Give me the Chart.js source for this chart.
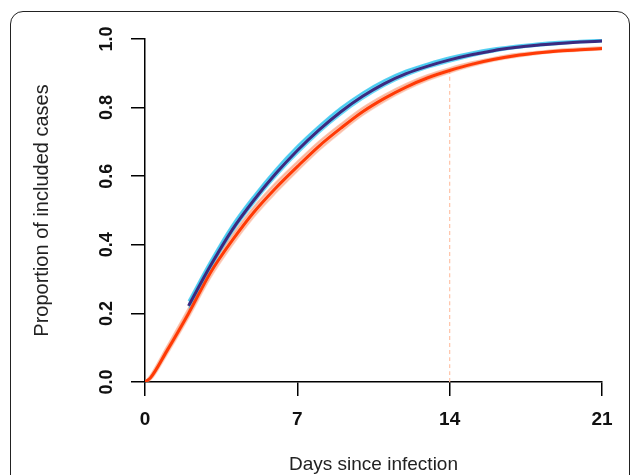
<!DOCTYPE html>
<html>
<head>
  <meta charset="utf-8">
  <title>Proportion of included cases</title>
  <style>
    body { margin: 0; background: #fff; }
    .wrap { position: relative; width: 630px; height: 475px; overflow: hidden; }
    .frame {
      position: absolute; left: 10px; top: 11px; width: 618px; height: 520px;
      border: 1px solid #222; border-radius: 13px;
    }
    canvas { position: absolute; left: 0; top: 0; }
  </style>
</head>
<body>
  <div class="wrap">
    <div class="frame"></div>
    <canvas id="chart" width="630" height="475"></canvas>
  </div>

  <script src="https://cdn.jsdelivr.net/npm/chart.js"></script>
  <script>
    const xTicks = [0, 7, 14, 21];
    const yTicks = [0, 0.2, 0.4, 0.6, 0.8, 1.0];
    const yTickLabels = ['0.0', '0.2', '0.4', '0.6', '0.8', '1.0'];

    // red curve (with salmon band)
    const redDays = [0, 0.25, 1, 2, 3, 4, 5, 6, 7, 8, 9, 10, 11, 12, 13, 14, 15, 16, 17, 18, 19, 20, 21];
    const redMid  = [0, 0.012, 0.09, 0.2, 0.318, 0.412, 0.495, 0.565, 0.628, 0.688, 0.74, 0.788, 0.827, 0.86, 0.887, 0.908, 0.926, 0.94, 0.951, 0.959, 0.965, 0.969, 0.972];
    const redLow  = [0, 0.005, 0.078, 0.186, 0.302, 0.397, 0.48, 0.55, 0.614, 0.675, 0.728, 0.777, 0.817, 0.851, 0.879, 0.901, 0.92, 0.935, 0.946, 0.955, 0.961, 0.965, 0.968];
    const redHigh = [0, 0.019, 0.102, 0.214, 0.334, 0.427, 0.51, 0.58, 0.642, 0.701, 0.752, 0.799, 0.837, 0.869, 0.895, 0.915, 0.932, 0.945, 0.956, 0.963, 0.969, 0.973, 0.976];

    // navy curve (with cyan band)
    const navyDays = [2, 3, 4, 5, 6, 7, 8, 9, 10, 11, 12, 13, 14, 15, 16, 17, 18, 19, 20, 21];
    const navyMid  = [0.222, 0.338, 0.443, 0.53, 0.607, 0.675, 0.735, 0.788, 0.833, 0.87, 0.899, 0.921, 0.939, 0.954, 0.966, 0.975, 0.982, 0.987, 0.991, 0.994];
    const navyLow  = [0.208, 0.324, 0.43, 0.517, 0.594, 0.662, 0.723, 0.776, 0.822, 0.86, 0.89, 0.913, 0.931, 0.947, 0.96, 0.97, 0.977, 0.982, 0.987, 0.99];
    const navyHigh = [0.236, 0.352, 0.457, 0.543, 0.62, 0.688, 0.747, 0.8, 0.844, 0.88, 0.908, 0.929, 0.947, 0.961, 0.972, 0.98, 0.987, 0.992, 0.995, 0.998];

    const markDay = 14;
    const markValue = 0.908;

    const pts = (xs, ys) => xs.map((x, i) => ({ x: x, y: ys[i] }));
    const FONT = '"Liberation Sans", Arial, sans-serif';

    const textPlugin = {
      id: 'texts',
      afterDraw(chart) {
        const ctx = chart.ctx;
        const xs = chart.scales.x, ys = chart.scales.y;
        ctx.save();
        ctx.fillStyle = '#111';
        ctx.textAlign = 'center';
        ctx.textBaseline = 'middle';
        ctx.font = 'bold 19px ' + FONT;
        xTicks.forEach(v => ctx.fillText(String(v), xs.getPixelForValue(v), 420));
        ctx.font = 'bold 18px ' + FONT;
        yTicks.forEach((v, i) => {
          ctx.save();
          ctx.translate(107, ys.getPixelForValue(v));
          ctx.rotate(-Math.PI / 2);
          ctx.fillText(yTickLabels[i], 0, 0);
          ctx.restore();
        });
        ctx.fillStyle = '#222';
        ctx.font = '19px ' + FONT;
        ctx.fillText('Days since infection', (chart.chartArea.left + chart.chartArea.right) / 2, 465);
        ctx.font = '20px ' + FONT;
        ctx.save();
        ctx.translate(42, (chart.chartArea.top + chart.chartArea.bottom) / 2);
        ctx.rotate(-Math.PI / 2);
        ctx.fillText('Proportion of included cases', 0, 0);
        ctx.restore();
        ctx.restore();
      }
    };

    const axisGrid = { drawOnChartArea: false, drawTicks: true, tickLength: 14, color: '#000', lineWidth: 1.5 };

    new Chart(document.getElementById('chart'), {
      type: 'line',
      data: {
        datasets: [
          { data: pts(navyDays, navyMid), borderColor: '#3c2a80', borderWidth: 3, order: 0 },
          { data: pts(redDays, redMid), borderColor: '#ff3a05', borderWidth: 3, order: 1 },
          { data: pts(navyDays, navyLow), borderColor: 'rgba(0,0,0,0)', borderWidth: 0, order: 2 },
          { data: pts(navyDays, navyHigh), borderColor: 'rgba(60,200,240,0.85)', borderWidth: 2,
            backgroundColor: 'rgba(60,205,245,0.75)', fill: '-1', order: 2 },
          { data: pts(redDays, redLow), borderColor: 'rgba(250,170,140,0.5)', borderWidth: 1.5, order: 3 },
          { data: pts(redDays, redHigh), borderColor: 'rgba(250,170,140,0.7)', borderWidth: 2,
            backgroundColor: 'rgba(250,160,128,0.6)', fill: '-1', order: 3 },
          { data: [{ x: markDay, y: 0 }, { x: markDay, y: markValue }], borderColor: '#ffc4a8',
            borderWidth: 1.2, borderDash: [4, 3], order: 4 }
        ]
      },
      options: {
        responsive: false,
        animation: false,
        layout: { padding: { left: 0, right: 28, top: 39, bottom: 0 } },
        plugins: { legend: { display: false }, tooltip: { enabled: false } },
        elements: { point: { radius: 0 }, line: { cubicInterpolationMode: 'monotone' } },
        scales: {
          x: {
            type: 'linear', min: 0, max: 21,
            afterBuildTicks: s => { s.ticks = xTicks.map(v => ({ value: v })); },
            afterFit: s => { s.height = 93; },
            grid: axisGrid,
            border: { color: '#000', width: 1.5 },
            ticks: { display: false }
          },
          y: {
            min: 0, max: 1,
            afterBuildTicks: s => { s.ticks = yTicks.map(v => ({ value: v })); },
            afterFit: s => { s.width = 145; },
            grid: axisGrid,
            border: { color: '#000', width: 1.5 },
            ticks: { display: false }
          }
        }
      },
      plugins: [textPlugin]
    });
  </script>
</body>
</html>
